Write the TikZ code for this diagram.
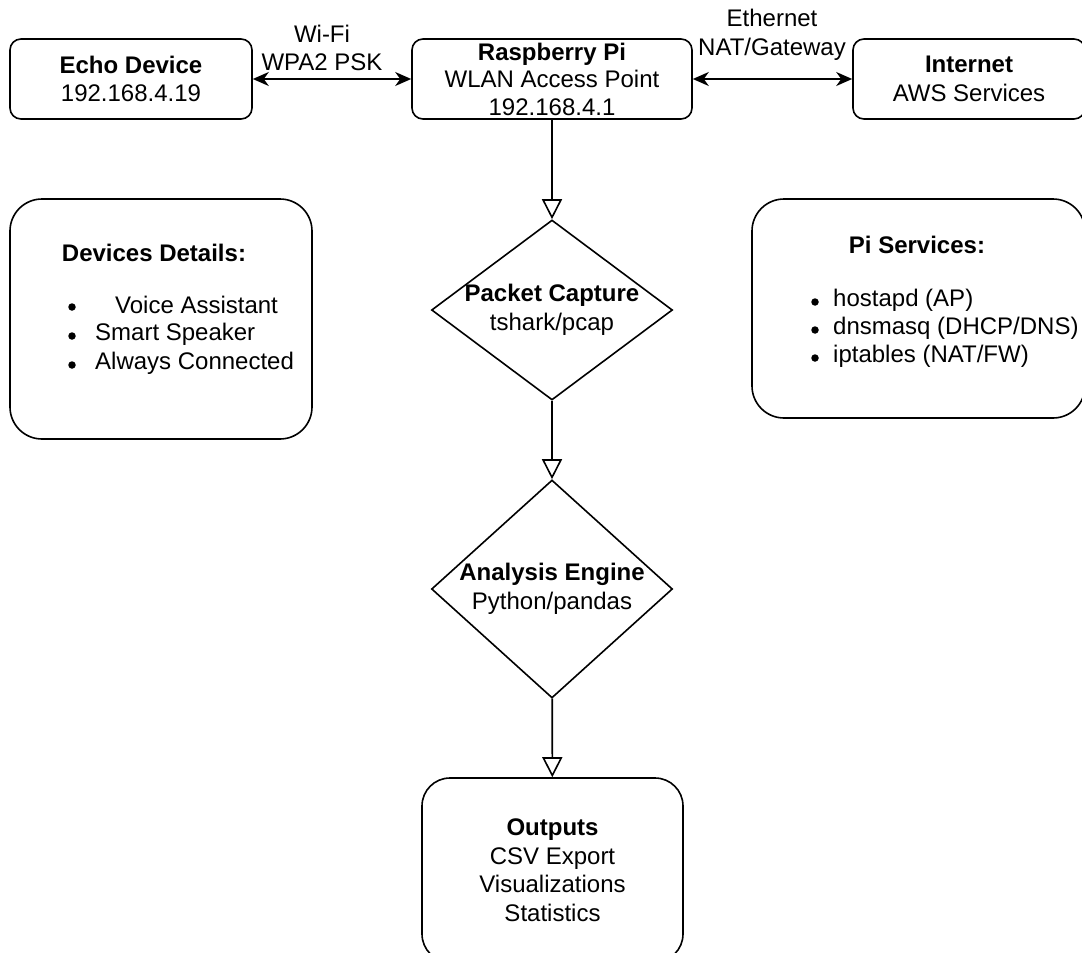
\documentclass[tikz,border=0pt]{standalone}
\usepackage{fontspec}
\setmainfont{Liberation Sans}
\usetikzlibrary{arrows.meta}
\usetikzlibrary{shapes.geometric}

\begin{document}
\begin{tikzpicture}[x=1pt,y=-1pt,
    every node/.style={font=\fontsize{24}{28.5}\selectfont},
    box/.style={draw,line width=1.6pt,rounded corners=11pt,align=center,inner sep=0pt},
    panel/.style={draw,line width=1.6pt,rounded corners=32pt,align=center,inner sep=0pt},
    decision/.style={draw,diamond,line width=1.6pt,inner sep=0pt},
    textlines/.style={align=center,inner sep=0pt},
    dot/.style={circle,fill,inner sep=0pt,minimum size=7.5pt},
    link/.style={line width=1.6pt,{Stealth[length=16pt,width=14pt,inset=5pt]}-{Stealth[length=16pt,width=14pt,inset=5pt]}},
    flow/.style={line width=1.6pt,-{Triangle[open,length=20pt,width=20pt]}}]
    \useasboundingbox (0,0) rectangle (1082,953);
    \node[box,minimum width=242pt,minimum height=80pt] (echo) at (131,79) {\textbf{Echo Device}\\192.168.4.19};
    \node[box,minimum width=280pt,minimum height=80pt] (pi) at (552,79) {\textbf{Raspberry Pi}\\[-1pt]WLAN Access Point\\[-1pt]192.168.4.1};
    \node[box,minimum width=232pt,minimum height=80pt] (internet) at (969,79) {\textbf{Internet}\\AWS Services};
    \node[textlines] (wifi) at (322,48) {Wi-Fi\\WPA2 PSK};
    \node[textlines] (eth) at (772,35) {Ethernet\\NAT/Gateway};
    \draw[link] (echo) -- (pi);
    \draw[link] (pi) -- (internet);
    \node[panel,minimum width=302pt,minimum height=240pt] (devices) at (161,319) {};
    \node[inner sep=0pt] (devtitle) at (154,253) {\textbf{Devices Details:}};
    \foreach \y/\txt/\dx [count=\i] in {305/Voice Assistant/115,334/Smart Speaker/95,363/Always Connected/95} {
        \node[dot] (devdot\i) at (72,\y+2) {};
        \node[anchor=west,inner sep=0pt] (dev\i) at (\dx,\y) {\txt};
    }
    \node[panel,minimum width=333pt,minimum height=219pt] (services) at (918.5,308.5) {};
    \node[inner sep=0pt] (svctitle) at (917,245) {\textbf{Pi Services:}};
    \foreach \y/\txt [count=\i] in {300/{hostapd (AP)},328/{dnsmasq (DHCP/DNS)},356/{iptables (NAT/FW)}} {
        \node[dot] (svcdot\i) at (815,\y+2) {};
        \node[anchor=west,inner sep=0pt] (svc\i) at (833,\y) {\txt};
    }
    \node[decision,minimum width=241pt,minimum height=180pt,
        label={[textlines]center:{\textbf{Packet Capture}\\tshark/pcap}}] (capture) at (552,310) {};
    \node[decision,minimum width=241pt,minimum height=218pt,
        label={[textlines]center:{\textbf{Analysis Engine}\\Python/pandas}}] (analysis) at (552,589) {};
    \node[panel,rounded corners=28pt,minimum width=261pt,minimum height=184pt] (outputs) at (552.5,870) {\textbf{Outputs}\\CSV Export\\Visualizations\\Statistics};
    \draw[flow] (pi) -- (capture);
    \draw[flow] (capture) -- (analysis);
    \draw[flow] (analysis) -- (outputs);
\end{tikzpicture}
\end{document}
